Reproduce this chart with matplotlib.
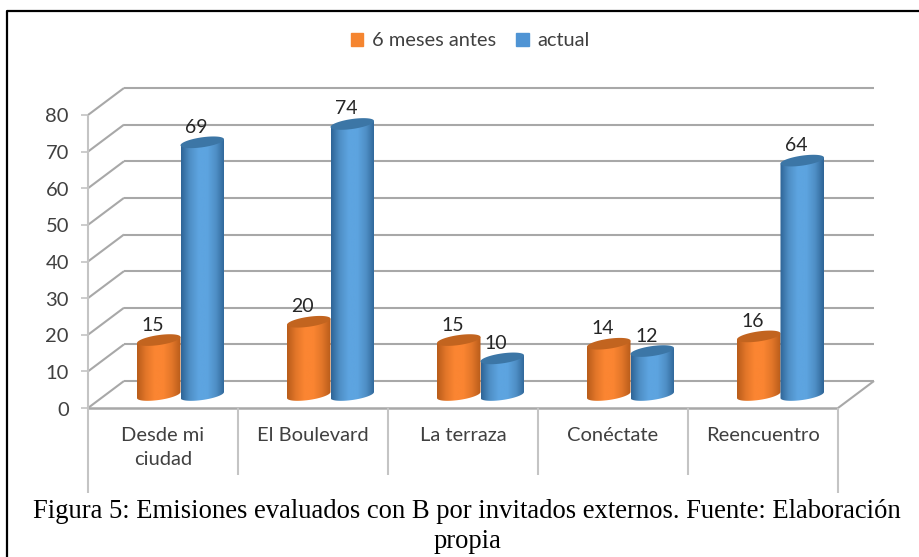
import numpy as np
import matplotlib
matplotlib.use("Agg")
import matplotlib.pyplot as plt
from matplotlib.colors import LinearSegmentedColormap
from matplotlib.lines import Line2D
from matplotlib.patches import Patch, Polygon

# Data
categories = ["Desde mi\nciudad", "El Boulevard", "La terraza", "Conéctate", "Reencuentro"]
seriesNames = ["6 meses antes", "actual"]
antes = [15, 20, 15, 14, 16]
actual = [69, 74, 10, 12, 64]
yTicks = [0, 10, 20, 30, 40, 50, 60, 70, 80]

caption1 = "Figura 5: Emisiones evaluados con B por invitados externos. Fuente: Elaboración"
caption2 = "propia"

# Figure size in pixels
W = 919
H = 557

# Colours
gridCol = "#a8a8a8"
axisCol = "#c4c4c4"
textCol = "#404040"
orange = ["#b85c1a", "#e27629", "#fb8532", "#fb8532", "#e27629", "#b85c1a"]
blue = ["#2e6496", "#4f8fc6", "#5da4e0", "#5da4e0", "#4f8fc6", "#2e6496"]
orangeTop = "#c2641f"
blueTop = "#3c76a6"

fontSans = "Lato"
fontCaption = "Liberation Serif"

# Plot area: front plane of the 3D box
left, right = 88, 838
y0, y80 = 408, 115
fig = plt.figure(figsize=(W / 100, H / 100), dpi=100)
ax = fig.add_axes([left / W, 1 - y0 / H, (right - left) / W, (y0 - y80) / H])
ax.axis("off")

pxX = 5 / (right - left)
pxY = 80 / (y0 - y80)
depthX = 36 * pxX
depthY = 27 * pxY


def line(xs, ys, lw=1.5, col=gridCol):
    ax.add_line(Line2D(xs, ys, color=col, lw=lw, clip_on=False, zorder=1, solid_capstyle="butt"))


# Walls and floor
for t in yTicks:
    if t > 0:
        line([depthX, 5 + depthX], [t + depthY, t + depthY])
    line([0, depthX], [t, t + depthY])
    line([-7 * pxX, 0], [t, t], lw=1.2, col=axisCol)
line([depthX, 5 + depthX], [depthY, depthY])
line([0, 5], [0, 0], lw=1.8)
line([5, 5 + depthX], [0, depthY])
line([0, 0], [80, -85 * pxY], col=axisCol)
line([5, 5], [0, -85 * pxY], col=axisCol)
for i in range(1, 5):
    line([i, i], [0, -67 * pxY], col=axisCol)


def cylinder(x0, x1, value, cols, topCol):
    # base sits a bit behind the front edge of the floor
    base = 13 * pxY
    cx = (x0 + x1) / 2
    a = (x1 - x0) / 2
    b = 5 * pxY
    tilt = 3 * pxY
    t = np.linspace(0, 2 * np.pi, 80)
    ex = cx + a * np.cos(t)
    ey = b * np.sin(t) + tilt * np.cos(t)
    top = base + value
    low = t[(t >= np.pi) & (t <= 2 * np.pi)]
    bx = cx + a * np.cos(low)
    by = base + b * np.sin(low) + tilt * np.cos(low)
    verts = [(x0, top - tilt)] + list(zip(bx, by)) + [(x1, top + tilt)]
    body = Polygon(verts, closed=True, transform=ax.transData, fc="none", ec="none")
    ax.add_patch(body)
    cmap = LinearSegmentedColormap.from_list("cyl", cols)
    grad = np.linspace(0, 1, 200).reshape(1, -1)
    im = ax.imshow(grad, cmap=cmap, extent=[x0, x1, 0, top + b + tilt], aspect="auto", zorder=2, clip_on=True)
    im.set_clip_path(body)
    ax.add_patch(Polygon(list(zip(ex, top + ey)), closed=True, fc=topCol, ec="none", zorder=2, clip_on=False))


# Bars
barW = 43.5 * pxX
startOff = 49 * pxX
for i in range(len(categories)):
    x0 = i + startOff
    cylinder(x0, x0 + barW, antes[i], orange, orangeTop)
    cylinder(x0 + barW, x0 + 2 * barW, actual[i], blue, blueTop)
    for xx, val in ((x0 + barW / 2, antes[i]), (x0 + 1.5 * barW, actual[i])):
        ax.annotate(str(val), (xx, val + 12 * pxY), xytext=(-6, 16), textcoords="offset pixels",
                    ha="center", va="center", fontsize=14, color="#262626", family=fontSans,
                    annotation_clip=False, zorder=4)

ax.set_xlim(0, 5)
ax.set_ylim(0, 80)

# Tick labels
for t in yTicks:
    ax.annotate(str(t), (0, t), xytext=(-19, -2), textcoords="offset pixels", ha="right", va="center",
                fontsize=14.5, color=textCol, family=fontSans, annotation_clip=False)
for i, c in enumerate(categories):
    ax.annotate(c, (i + 0.5, 0), xytext=(0, -19), textcoords="offset pixels", ha="center", va="top",
                fontsize=14.5, color=textCol, family=fontSans, linespacing=1.5, annotation_clip=False)

# Legend
handles = [Patch(color="#f58530"), Patch(color="#4f94d4")]
fig.legend(handles, seriesNames, loc="center", bbox_to_anchor=(470.5 / W, 1 - 41 / H), ncol=2, frameon=False,
           prop={"family": fontSans, "size": 14.4}, labelcolor=textCol, handlelength=0.62, handleheight=0.62,
           handletextpad=0.45, columnspacing=1.0)

# Caption
fig.text(467 / W, 1 - 512 / H, caption1, ha="center", va="center", family=fontCaption, fontsize=19.2, color="black")
fig.text(467 / W, 1 - 542 / H, caption2, ha="center", va="center", family=fontCaption, fontsize=19.2, color="black")

# Border, only top and left are visible in the picture
fig.add_artist(Line2D([7 / W, 7 / W, 1], [0, 1 - 11 / H, 1 - 11 / H], transform=fig.transFigure, color="black", lw=1.6))

plt.savefig("out.png", dpi=100)
